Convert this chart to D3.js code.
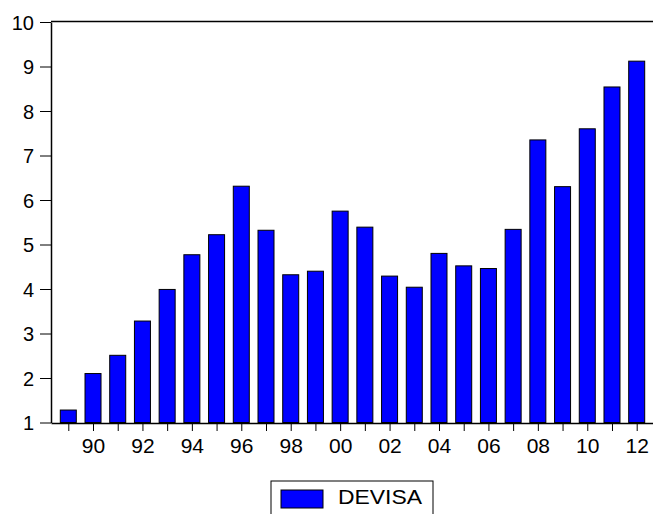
<!DOCTYPE html>
<html>
<head>
<meta charset="utf-8">
<script src="https://cdn.jsdelivr.net/npm/d3@7"></script>
<style>
  body { margin: 0; background: #fff; }
  svg text { font-family: "Liberation Sans", Arial, sans-serif; fill: #000; }
</style>
</head>
<body>
<svg id="chart" width="653" height="514"></svg>
<script>
// data
const years = [1989, 1990, 1991, 1992, 1993, 1994, 1995, 1996, 1997, 1998, 1999, 2000,
               2001, 2002, 2003, 2004, 2005, 2006, 2007, 2008, 2009, 2010, 2011, 2012];
const devisa = [1.28, 2.10, 2.51, 3.28, 3.99, 4.77, 5.22, 6.31, 5.32, 4.32, 4.40, 5.75,
                5.39, 4.29, 4.04, 4.80, 4.52, 4.46, 5.34, 7.35, 6.30, 7.60, 8.54, 9.12];
const yTicks = [1, 2, 3, 4, 5, 6, 7, 8, 9, 10];
const seriesName = "DEVISA";

const svg = d3.select("#chart");
const plotL = 51, plotR = 654, plotT = 22, plotB = 422.5;

// x as a year index, half a step of room at each end
const x = d3.scaleLinear().domain([-0.7, years.length - 0.3]).range([plotL, plotR]);
const y = d3.scaleLinear().domain([1, 10]).range([plotB, plotT]);
const barW = 16;

// bars
svg.append("g")
  .selectAll("rect")
  .data(years)
  .join("rect")
  .attr("x", (d, i) => x(i) - barW / 2)
  .attr("y", (d, i) => y(devisa[i]))
  .attr("width", barW)
  .attr("height", (d, i) => y(1) - y(devisa[i]))
  .attr("fill", "#0000ff")
  .attr("stroke", "#000")
  .attr("stroke-width", 1);

// frame: top line and left axis
svg.append("line")
  .attr("x1", plotL).attr("x2", plotR)
  .attr("y1", plotT - 0.5).attr("y2", plotT - 0.5)
  .attr("stroke", "#000").attr("stroke-width", 1.5);

const yAxis = svg.append("g")
  .attr("transform", `translate(${plotL},0)`)
  .call(d3.axisLeft(y).tickValues(yTicks).tickSize(11).tickPadding(6).tickSizeOuter(0));
yAxis.select(".domain").attr("stroke-width", 1.5);
yAxis.selectAll("text").style("font-size", "20px").attr("dy", "0.36em");

// bottom axis: ticks every year, labels on even years
const xAxis = svg.append("g")
  .attr("transform", `translate(0,${plotB + 0.5})`)
  .call(d3.axisBottom(x)
    .tickValues(d3.range(years.length))
    .tickSize(8)
    .tickPadding(15)
    .tickSizeOuter(0)
    .tickFormat(i => years[i] % 2 === 0 ? String(years[i]).slice(2) : ""));
xAxis.select(".domain").attr("stroke-width", 1.5);
xAxis.selectAll("text").style("font-size", "21px").attr("dy", "0.35em");

// legend
const lg = svg.append("g");
lg.append("rect")
  .attr("x", 271).attr("y", 481)
  .attr("width", 162).attr("height", 40)
  .attr("fill", "#fff").attr("stroke", "#000").attr("stroke-width", 1);
lg.append("rect")
  .attr("x", 281).attr("y", 490)
  .attr("width", 42).attr("height", 18)
  .attr("fill", "#0000ff").attr("stroke", "#000").attr("stroke-width", 1);
lg.append("text")
  .attr("x", 338).attr("y", 504)
  .attr("textLength", 84)
  .attr("lengthAdjust", "spacingAndGlyphs")
  .style("font-size", "20px")
  .text(seriesName);
</script>
</body>
</html>
